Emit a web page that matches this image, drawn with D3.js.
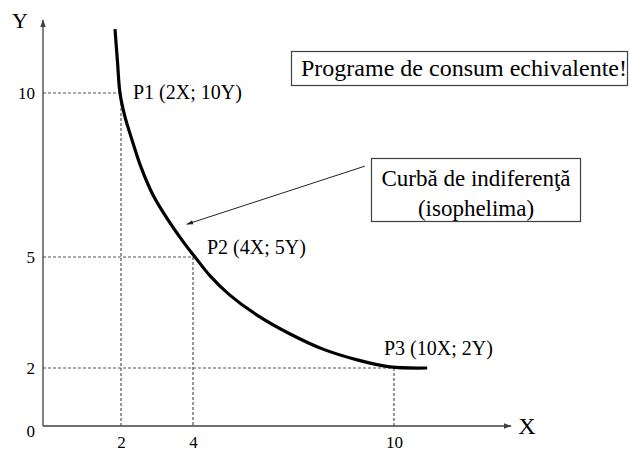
<!DOCTYPE html>
<html>
<head>
<meta charset="utf-8">
<script src="https://cdn.jsdelivr.net/npm/d3@7"></script>
<style>
  html, body { margin: 0; padding: 0; background: #fff; }
  svg { display: block; }
  text { font-family: "Liberation Serif", "Times New Roman", serif; }
</style>
</head>
<body>
<svg id="chart" width="630" height="452"></svg>
<script>
// ---- data ----
const xTicks = [2, 4, 10];
const yTicks = [0, 2, 5, 10];
const curveX = [1.846, 1.91, 1.974, 2.111, 2.306, 2.556, 2.889, 3.306, 3.75, 4.06, 4.51, 5.10, 5.91, 6.90, 7.88, 8.90, 9.88, 10.99];
const curveY = [11.95, 10.95, 10.0, 9.27, 8.57, 7.74, 6.89, 6.13, 5.43, 5.0, 4.49, 3.97, 3.43, 2.92, 2.51, 2.22, 2.03, 2.0];
const pointX = [2, 4, 10];
const pointY = [10, 5, 2];
const pointLabels = ["P1 (2X; 10Y)", "P2 (4X; 5Y)", "P3 (10X; 2Y)"];
const noteText = "Programe de consum echivalente!";
const curveNote = ["Curbă de indiferenţă", "(isophelima)"];
const arrowFrom = [9.13, 7.77];
const arrowTo = [3.83, 6.0];

// ---- layout ----
const FONT = "Liberation Serif, Times New Roman, serif";
const svg = d3.select("#chart");
const x = d3.scaleLinear().domain([0, 2, 4, 10]).range([43, 121, 193, 394]);
const y = d3.scaleLinear().domain([0, 2, 5, 10]).range([426, 368, 257, 93]);
const axisColor = "#404040";

const defs = svg.append("defs");
defs.append("marker").attr("id", "ah").attr("viewBox", "0 0 10 10")
  .attr("refX", 9).attr("refY", 5).attr("markerWidth", 6).attr("markerHeight", 6)
  .attr("orient", "auto")
  .append("path").attr("d", "M0,1.5 L10,5 L0,8.5 Z").attr("fill", axisColor);
defs.append("marker").attr("id", "ah2").attr("viewBox", "0 0 10 10")
  .attr("refX", 9).attr("refY", 5).attr("markerWidth", 7).attr("markerHeight", 7)
  .attr("orient", "auto")
  .append("path").attr("d", "M0,2 L10,5 L0,8 Z").attr("fill", "#222");

// dashed guide lines
const guides = svg.append("g").attr("stroke", "#555").attr("stroke-width", 1.2)
  .attr("stroke-dasharray", "3,2").attr("fill", "none");
pointX.forEach((px, i) => {
  guides.append("line").attr("x1", x(0)).attr("x2", x(px)).attr("y1", y(pointY[i])).attr("y2", y(pointY[i]));
  guides.append("line").attr("x1", x(px)).attr("x2", x(px)).attr("y1", y(pointY[i])).attr("y2", y(0));
});

// axes lines
svg.append("line").attr("x1", x(0)).attr("x2", x(0)).attr("y1", y(0)).attr("y2", 20)
  .attr("stroke", axisColor).attr("stroke-width", 1.3).attr("marker-end", "url(#ah)");
svg.append("line").attr("x1", x(0)).attr("x2", 511).attr("y1", y(0)).attr("y2", y(0))
  .attr("stroke", axisColor).attr("stroke-width", 1.3).attr("marker-end", "url(#ah)");

// tick labels via d3 axes
const yAxis = svg.append("g").attr("transform", `translate(${x(0)},0)`)
  .call(d3.axisLeft(y).tickValues(yTicks).tickSize(0).tickPadding(8).tickFormat(d3.format("d")));
yAxis.attr("font-family", FONT);
yAxis.select(".domain").remove();
yAxis.selectAll("text").attr("font-size", 17).attr("font-family", FONT).attr("fill", "#000")
  .attr("dy", d => d === 0 ? "0.62em" : "0.32em");

const xAxis = svg.append("g").attr("transform", `translate(0,${y(0)})`)
  .call(d3.axisBottom(x).tickValues(xTicks).tickSize(0).tickPadding(10).tickFormat(d3.format("d")));
xAxis.attr("font-family", FONT);
xAxis.select(".domain").remove();
xAxis.selectAll("text").attr("font-size", 17).attr("font-family", FONT).attr("fill", "#000");

// axis titles
svg.append("text").attr("x", 20).attr("y", 28).attr("text-anchor", "middle")
  .attr("font-family", FONT).attr("font-size", 22).text("Y");
svg.append("text").attr("x", 527).attr("y", 434).attr("text-anchor", "middle")
  .attr("font-family", FONT).attr("font-size", 24).text("X");

// curve
const pts = curveX.map((v, i) => [v, curveY[i]]);
svg.append("path").datum(pts)
  .attr("d", d3.line().x(d => x(d[0])).y(d => y(d[1])).curve(d3.curveCatmullRom.alpha(0.5)))
  .attr("fill", "none").attr("stroke", "#000").attr("stroke-width", 3.2);

// point labels
const labelOffsets = [[12, 6], [14, -3], [-10, -13]];
pointLabels.forEach((t, i) => {
  svg.append("text").attr("x", x(pointX[i]) + labelOffsets[i][0]).attr("y", y(pointY[i]) + labelOffsets[i][1])
    .attr("font-family", FONT).attr("font-size", 20).text(t);
});

// arrow annotation
svg.append("line").attr("x1", x(arrowFrom[0])).attr("y1", y(arrowFrom[1]))
  .attr("x2", x(arrowTo[0])).attr("y2", y(arrowTo[1]))
  .attr("stroke", "#222").attr("stroke-width", 1).attr("marker-end", "url(#ah2)");

// note boxes
svg.append("rect").attr("x", 291.5).attr("y", 51.5).attr("width", 336).attr("height", 34)
  .attr("fill", "#fff").attr("stroke", axisColor).attr("stroke-width", 1.2);
svg.append("text").attr("x", 301).attr("y", 76).attr("font-family", FONT).attr("font-size", 24)
  .attr("textLength", 326).attr("lengthAdjust", "spacingAndGlyphs").text(noteText);

svg.append("rect").attr("x", 371.5).attr("y", 158.5).attr("width", 209).attr("height", 63)
  .attr("fill", "#fff").attr("stroke", axisColor).attr("stroke-width", 1.2);
curveNote.forEach((t, i) => {
  svg.append("text").attr("x", 476).attr("y", 186 + i * 30).attr("text-anchor", "middle")
    .attr("font-family", FONT).attr("font-size", 23).text(t);
});
</script>
</body>
</html>
